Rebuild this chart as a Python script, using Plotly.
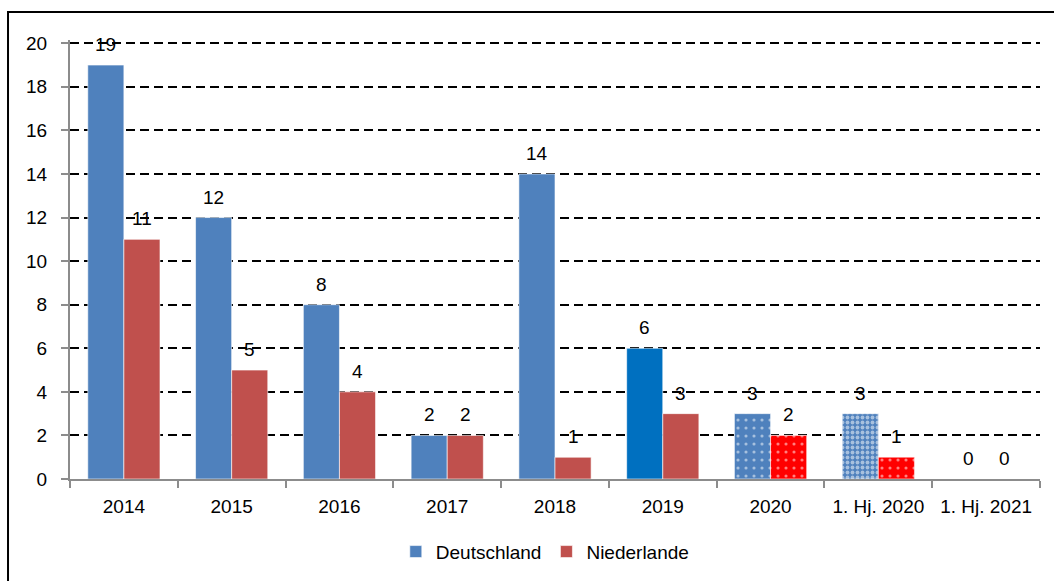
import plotly.graph_objects as go

categories = ["2014", "2015", "2016", "2017", "2018", "2019", "2020",
              "1. Hj. 2020", "1. Hj. 2021"]
deutschland = [19, 12, 8, 2, 14, 6, 3, 3, 0]
niederlande = [11, 5, 4, 2, 1, 3, 2, 1, 0]

BLUE = "#4F81BD"
BLUE_DARK = "#0070C0"
RED = "#C0504D"
RED_BRIGHT = "#FF0000"
AXIS_GRAY = "#8C8C8C"
FS = 19

de_colors = [BLUE, BLUE, BLUE, BLUE, BLUE, BLUE_DARK, BLUE, BLUE, BLUE]
nl_colors = [RED, RED, RED, RED, RED, RED, RED_BRIGHT, RED_BRIGHT, RED]

# position index of each period on the x axis
pos = list(range(len(categories)))

# periods drawn with a dotted fill instead of a solid one
dotted = ["2020", "1. Hj. 2020"]
i20 = categories.index(dotted[0])
ih = categories.index(dotted[1])

EDGE = dict(color="rgba(255,255,255,0.6)", width=1)

fig = go.Figure()
fig.add_trace(go.Bar(
    name="Deutschland", x=pos, y=deutschland, offsetgroup="de",
    hovertext=categories,
    marker=dict(color=de_colors, line=EDGE),
))
fig.add_trace(go.Bar(
    name="Niederlande", x=pos, y=niederlande, offsetgroup="nl",
    hovertext=categories,
    marker=dict(color=nl_colors, line=EDGE),
))

# dotted overlays for the later periods
fig.add_trace(go.Bar(
    x=[pos[i20]], y=[deutschland[i20]], offsetgroup="de",
    showlegend=False, hoverinfo="skip",
    marker=dict(color=BLUE, line=EDGE,
                pattern=dict(shape=".", fgcolor="white", bgcolor=BLUE,
                             size=8, solidity=0.12)),
))
fig.add_trace(go.Bar(
    x=[pos[ih]], y=[deutschland[ih]], offsetgroup="de",
    showlegend=False, hoverinfo="skip",
    marker=dict(color=BLUE, line=EDGE,
                pattern=dict(shape=".", fgcolor="white", bgcolor=BLUE,
                             size=5, solidity=0.45)),
))
fig.add_trace(go.Bar(
    x=[pos[i20], pos[ih]], y=[niederlande[i20], niederlande[ih]],
    offsetgroup="nl", showlegend=False, hoverinfo="skip",
    marker=dict(color=RED_BRIGHT, line=EDGE,
                pattern=dict(shape=".", fgcolor="white", bgcolor=RED_BRIGHT,
                             size=8, solidity=0.12)),
))

# value labels above each bar
for p, v in zip(pos, deutschland):
    fig.add_annotation(x=p, y=v, text=str(v), showarrow=False,
                       xshift=-18, yshift=8, yanchor="bottom",
                       font=dict(size=FS, color="black"))
for p, v in zip(pos, niederlande):
    fig.add_annotation(x=p, y=v, text=str(v), showarrow=False,
                       xshift=18, yshift=8, yanchor="bottom",
                       font=dict(size=FS, color="black"))

# outer chart frame
fig.add_shape(type="rect", xref="paper", yref="paper",
              x0=-0.0639, x1=1.03, y0=-0.26, y1=1.064,
              line=dict(color="black", width=2), layer="below")

fig.update_layout(
    width=1054, height=581,
    margin=dict(l=70, r=14, t=40, b=101),
    paper_bgcolor="white", plot_bgcolor="white",
    font=dict(family="Liberation Sans, Arial, sans-serif", size=FS,
              color="black"),
    barmode="group", bargap=0.33, bargroupgap=0,
    showlegend=True,
    legend=dict(orientation="h", x=0.49, xanchor="center", y=-0.163,
                yanchor="middle", font=dict(size=FS), itemwidth=30,
                traceorder="normal"),
)
fig.update_xaxes(
    range=[-0.5, len(categories) - 0.5],
    tickmode="array", tickvals=pos, ticktext=categories, tickangle=0,
    ticks="", ticklabelstandoff=9,
    minor=dict(tickmode="linear", tick0=-0.5, dtick=1, ticks="outside",
               ticklen=7, tickcolor=AXIS_GRAY, tickwidth=2, showgrid=False),
    showline=True, linecolor=AXIS_GRAY, linewidth=2,
    showgrid=False, zeroline=False, tickfont=dict(size=FS),
)
fig.update_yaxes(
    range=[0, 20.15], tickvals=list(range(0, 21, 2)),
    showline=True, linecolor=AXIS_GRAY, linewidth=2,
    ticks="outside", ticklen=7, tickcolor=AXIS_GRAY, tickwidth=2,
    showgrid=True, gridcolor="black", gridwidth=1.5, griddash="9px,5px",
    zeroline=False, tickfont=dict(size=FS), ticklabelstandoff=10,
)

fig.write_html("out.html")
